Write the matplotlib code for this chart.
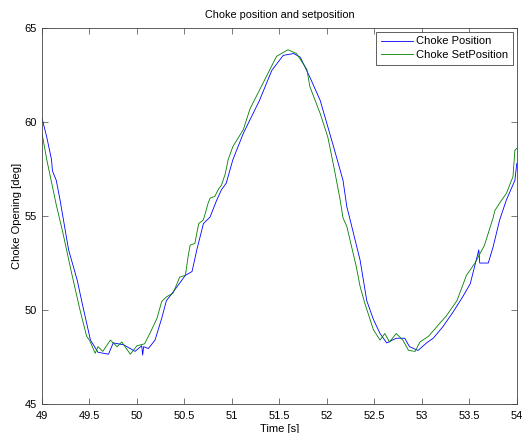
import numpy as np
import matplotlib.pyplot as plt

plt.rcParams['font.family'] = ['Liberation Sans', 'DejaVu Sans']

# Choke SetPosition (green)
t_set = [49.00, 49.05, 49.10, 49.15, 49.22, 49.31, 49.40, 49.47, 49.50, 49.56,
         49.59, 49.64, 49.72, 49.79, 49.84, 49.93, 50.00, 50.08, 50.14, 50.21,
         50.26, 50.31, 50.38, 50.45, 50.51, 50.54, 50.56, 50.61, 50.65, 50.70,
         50.75, 50.77, 50.82, 50.86, 50.89, 50.93, 50.96, 51.01, 51.12, 51.19,
         51.29, 51.37, 51.47, 51.59, 51.68, 51.79, 51.82, 51.93, 52.01, 52.08,
         52.14, 52.17, 52.21, 52.31, 52.35, 52.40, 52.49, 52.56, 52.61, 52.66,
         52.73, 52.80, 52.86, 52.93, 52.98, 53.07, 53.19, 53.26, 53.37, 53.47,
         53.56, 53.66, 53.75, 53.77, 53.84, 53.89, 53.96, 53.98, 54.00]
y_set = [59.4, 58.0, 56.8, 55.6, 54.1, 52.0, 50.0, 48.6, 48.4, 47.7,
         48.05, 47.8, 48.4, 48.05, 48.3, 47.65, 48.1, 48.2, 48.8, 49.55,
         50.45, 50.7, 50.9, 51.75, 51.85, 52.9, 53.45, 53.55, 54.6, 54.8,
         55.7, 55.95, 56.05, 56.45, 56.65, 57.25, 58.0, 58.7, 59.6, 60.7,
         61.7, 62.5, 63.5, 63.85, 63.65, 62.8, 61.9, 60.45, 59.2, 57.45,
         55.85, 54.9, 54.45, 52.3, 51.25, 50.35, 48.95, 48.4, 48.75, 48.3,
         48.75, 48.4, 47.85, 47.8, 48.3, 48.6, 49.3, 49.7, 50.5, 51.85,
         52.5, 53.45, 54.9, 55.3, 55.85, 56.2, 57.1, 58.5, 58.6]

# Choke Position (blue)
t_pos = [49.00, 49.05, 49.10, 49.11, 49.15, 49.19, 49.28, 49.37, 49.43, 49.51,
         49.59, 49.70, 49.75, 49.86, 49.98, 50.05, 50.06, 50.07, 50.12, 50.19,
         50.26, 50.31, 50.38, 50.51, 50.58, 50.63, 50.70, 50.77, 50.84, 50.89,
         50.94, 51.01, 51.12, 51.29, 51.42, 51.54, 51.65, 51.72, 51.82, 51.93,
         52.07, 52.17, 52.21, 52.24, 52.35, 52.42, 52.49, 52.56, 52.63, 52.73,
         52.82, 52.87, 52.96, 53.05, 53.12, 53.22, 53.33, 53.43, 53.51, 53.60,
         53.61, 53.70, 53.75, 53.82, 53.89, 53.98, 54.00]
y_pos = [60.2, 59.2, 58.0, 57.4, 56.9, 55.85, 53.2, 51.6, 50.2, 48.4,
         47.75, 47.65, 48.25, 48.15, 47.8, 48.1, 47.6, 48.05, 47.95, 48.4,
         49.55, 50.5, 50.95, 51.85, 52.05, 53.2, 54.6, 54.95, 55.85, 56.4,
         56.75, 58.0, 59.4, 61.15, 62.75, 63.55, 63.65, 63.45, 62.4, 61.15,
         58.7, 56.9, 55.5, 54.9, 52.65, 50.5, 49.5, 48.75, 48.25, 48.5,
         48.5, 48.05, 47.85, 48.25, 48.5, 49.1, 49.9, 50.7, 51.4, 53.2,
         52.5, 52.5, 53.35, 54.8, 55.85, 56.9, 57.8]

fig = plt.figure(figsize=(5.22, 4.33), dpi=100)
ax = fig.add_axes([0.0805, 0.067, 0.9095, 0.868])

ax.plot(t_pos, y_pos, color='#0000ff', lw=0.6, label='Choke Position')
ax.plot(t_set, y_set, color='#008000', lw=0.6, label='Choke SetPosition')

ax.set_xlim(49, 54)
ax.set_ylim(45, 65)
ax.set_xticks(np.arange(49, 54.01, 0.5))
ax.set_xticklabels(['49', '49.5', '50', '50.5', '51', '51.5', '52', '52.5', '53', '53.5', '54'])
ax.set_yticks([45, 50, 55, 60, 65])
ax.tick_params(direction='in', top=True, right=True, labelsize=8, length=4, width=0.5,
               color='#444444')
ax.tick_params(axis='x', pad=5)
for s in ax.spines.values():
    s.set_linewidth(0.6)
    s.set_color('#444444')

ax.set_title('Choke position and setposition', fontsize=7.8, pad=7)
ax.set_xlabel('Time [s]', fontsize=8, labelpad=2)
ax.set_ylabel('Choke Opening [deg]', fontsize=8, labelpad=2)

leg = ax.legend(loc='upper right', fontsize=8, fancybox=False, framealpha=1,
                borderaxespad=0.35, handlelength=2.9, borderpad=0.4, labelspacing=0.35,
                handletextpad=0.3)
leg.get_frame().set_edgecolor('#444444')
leg.get_frame().set_linewidth(0.6)

fig.savefig('out.png', dpi=100)
